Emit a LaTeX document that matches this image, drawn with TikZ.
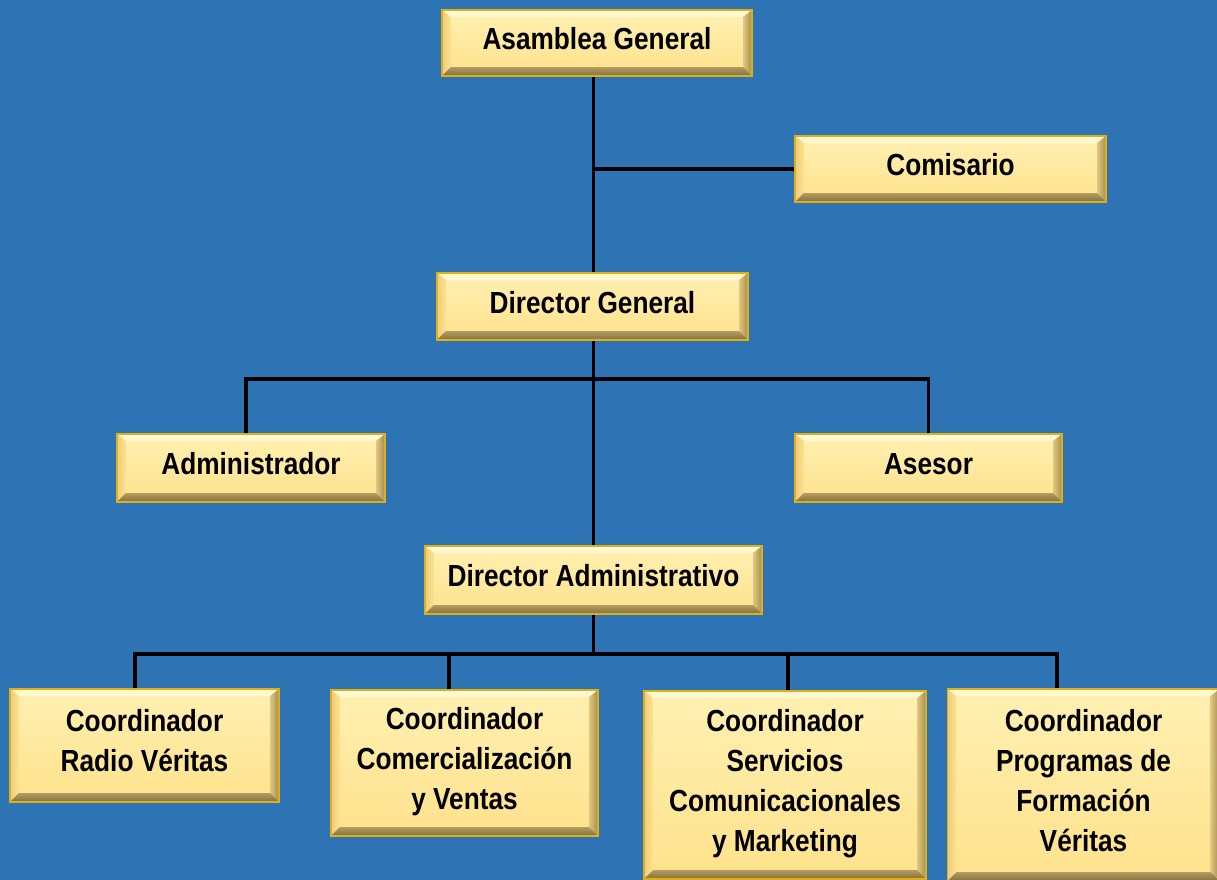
\documentclass[tikz,border=0pt]{standalone}
\usepackage{fontspec}
\newfontfamily\boxfont[FakeStretch=0.86]{Liberation Sans}
\usetikzlibrary{calc}

\definecolor{bgblue}{RGB}{46,116,181}
\definecolor{boxedge}{RGB}{222,176,20}
\definecolor{facetop}{RGB}{255,240,178}
\definecolor{facebot}{RGB}{255,226,140}
\definecolor{bevlight}{RGB}{255,248,210}
\definecolor{bevleft}{RGB}{236,204,128}
\definecolor{bevright}{RGB}{160,138,84}
\definecolor{bevbot}{RGB}{130,112,66}

\tikzset{
	bevelbox/.style={
		rectangle, inner sep=0pt, align=center,
		font={\boxfont\bfseries\fontsize{21.7pt}{28.3pt}\selectfont},
		execute at begin node={\rule{0pt}{16pt}},
		execute at end node={\rule[-6.7pt]{0pt}{0pt}},
		draw=boxedge, line width=0.8pt,
		top color=facetop, bottom color=facebot,
		path picture={
			% top, left, right and bottom bevels
			\shade[top color=bevlight, bottom color=facetop]
				(path picture bounding box.north west) -- (path picture bounding box.north east)
				-- ([shift={(-6.4pt,-5pt)}]path picture bounding box.north east)
				-- ([shift={(6.4pt,-5pt)}]path picture bounding box.north west) -- cycle;
			\shade[left color=bevleft, right color=facebot]
				(path picture bounding box.north west) -- ([shift={(6.4pt,-5pt)}]path picture bounding box.north west)
				-- ([shift={(6.4pt,6.4pt)}]path picture bounding box.south west)
				-- (path picture bounding box.south west) -- cycle;
			\shade[left color=facebot!70!bevright, right color=bevright]
				(path picture bounding box.north east) -- ([shift={(-6.4pt,-5pt)}]path picture bounding box.north east)
				-- ([shift={(-6.4pt,6.4pt)}]path picture bounding box.south east)
				-- (path picture bounding box.south east) -- cycle;
			\shade[top color=bevright!80!facebot, bottom color=bevbot]
				(path picture bounding box.south west) -- ([shift={(6.4pt,6.4pt)}]path picture bounding box.south west)
				-- ([shift={(-6.4pt,6.4pt)}]path picture bounding box.south east)
				-- (path picture bounding box.south east) -- cycle;
		}
	},
	link/.style={draw=black, line width=2.8pt}
}

\begin{document}
\begin{tikzpicture}[x=0.025cm, y=-0.025cm]
	\useasboundingbox (0,0) rectangle (1217,880);
	\clip (0,0) rectangle (1217,880);
	\fill[bgblue] (0,0) rectangle (1217,880);

	% top of the chart
	\node[bevelbox, minimum width=7.75cm, minimum height=1.65cm] (asamblea) at(597,43){Asamblea General};
	\node[bevelbox, minimum width=7.775cm, minimum height=1.65cm] (comisario) at(950.5,169){Comisario};
	\node[bevelbox, minimum width=7.775cm, minimum height=1.675cm] (dirgen) at(592.5,306.5){Director General};

	\node[bevelbox, minimum width=6.7cm, minimum height=1.7cm] (admin) at(251,468){Administrador};
	\node[bevelbox, minimum width=6.675cm, minimum height=1.7cm] (asesor) at(928.5,468){Asesor};

	\node[bevelbox, minimum width=8.425cm, minimum height=1.7cm] (diradm) at(593.5,580){Director Administrativo};

	% coordinators
	\node[bevelbox, minimum width=6.725cm, minimum height=2.825cm] (coordradio) at(144.5,745.5){Coordinador\\Radio Véritas};
	\node[bevelbox, minimum width=6.675cm, minimum height=3.65cm] (coordcom) at(464.5,763){Coordinador\\Comercialización\\y Ventas};
	\node[bevelbox, minimum width=7.05cm, minimum height=4.7cm] (coordserv) at(785,785){Coordinador\\Servicios\\Comunicacionales\\y Marketing};
	\node[bevelbox, minimum width=6.8cm, minimum height=4.8cm] (coordprog) at(1083.5,785){Coordinador\\Programas de\\Formación\\Véritas};

	\coordinate (hubA) at(593.5,379);
	\coordinate (hubB) at(593.5,654);

	\draw[link] (asamblea.south -| diradm.north) -- (dirgen.north -| diradm.north);
	\draw[link] (comisario.west -| diradm.north) -- (comisario.west);
	\draw[link] (dirgen.south -| diradm.north) -- (diradm.north);
	\draw[link] ([xshift=-0.125cm]admin.north) |- (hubA) -| (asesor.north);
	\draw[link] (diradm.south) -- (hubB);
	\draw[link] ([xshift=-0.24cm]coordradio.north) |- (hubB);
	\draw[link] ([xshift=-0.39cm]coordcom.north) |- (hubB);
	\draw[link] ([xshift=0.075cm]coordserv.north) |- (hubB);
	\draw[link] ([xshift=-0.66cm]coordprog.north) |- (hubB);
\end{tikzpicture}
\end{document}
